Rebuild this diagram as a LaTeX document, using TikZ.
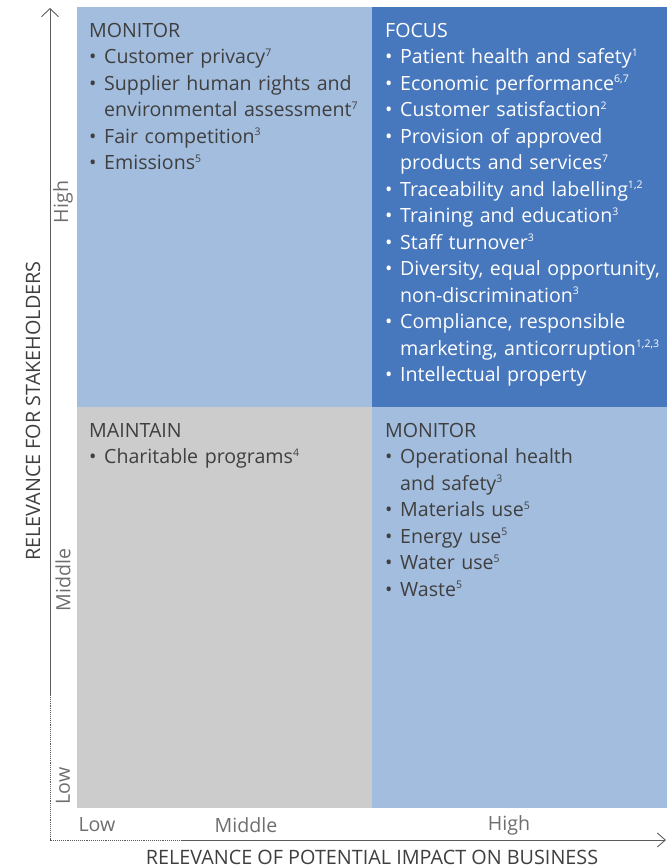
\documentclass[tikz,border=0pt]{standalone}
\usepackage{fontspec}
\setmainfont{Open Sans}
\usepackage{xcolor}
\usetikzlibrary{arrows.meta,positioning}
\definecolor{LightBlue}{HTML}{A3BDDF}
\definecolor{DarkBlue}{HTML}{4777BC}
\definecolor{LightGrey}{HTML}{CCCCCC}
\definecolor{TextGrey}{HTML}{3F3F3F}
\definecolor{AxisGrey}{HTML}{5C5C5C}
\definecolor{LabelGrey}{HTML}{6E6E6E}
\newcommand{\fn}[1]{\textsuperscript{\fontsize{10.5}{10.5}\selectfont #1}}
\newcommand{\itm}{\par\hangindent=15pt\hangafter=1\noindent\makebox[15pt][l]{\textbullet}}
\tikzset{
  quad/.style={anchor=north west, inner sep=0pt, text width=285pt, align=left,
    font=\fontsize{19.6}{26.5}\selectfont, text=TextGrey},
  axislabel/.style={inner sep=0pt, font=\fontsize{19.6}{22}\selectfont, text=LabelGrey},
  axistitle/.style={inner sep=0pt, font=\fontsize{19.8}{22}\selectfont, text=TextGrey},
  axis/.style={color=AxisGrey, line width=0.9pt},
}

\begin{document}
\begin{tikzpicture}[x=1pt,y=-1pt]
        \useasboundingbox (0,0) rectangle (668,868);
        \fill[color=LightBlue] (77,7) rectangle (372,407);
        \fill[color=DarkBlue] (372,7) rectangle (667,407);
        \fill[color=LightGrey] (77,407) rectangle (372,808);
        \fill[color=LightBlue] (372,407) rectangle (667,808);

        \node[quad] (monitortop) at (89,23) {MONITOR\itm Customer privacy\fn{7}\itm Supplier human rights and\newline environmental assessment\fn{7}\itm Fair competition\fn{3}\itm Emissions\fn{5}};
        \node[quad, text=white] (focus) at (385,23) {FOCUS\itm Patient health and safety\fn{1}\itm Economic performance\fn{6,7}\itm Customer satisfaction\fn{2}\itm Provision of approved\newline products and services\fn{7}\itm Traceability and labelling\fn{1,2}\itm Training and education\fn{3}\itm Staff turnover\fn{3}\itm Diversity, equal opportunity,\newline non-discrimination\fn{3}\itm Compliance, responsible\newline marketing, anticorruption\fn{1,2,3}\itm Intellectual property};
        \node[quad] (maintain) at (89,423) {MAINTAIN\itm Charitable programs\fn{4}};
        \node[quad] (monitorbottom) at (385,423) {MONITOR\itm Operational health\newline and safety\fn{3}\itm Materials use\fn{5}\itm Energy use\fn{5}\itm Water use\fn{5}\itm Waste\fn{5}};

        \coordinate (origin) at (50,840);
        \coordinate (ytip) at (50,8);
        \coordinate (ybreak) at (50,695);
        \coordinate (xbreak) at (183,840);
        \coordinate (xtip) at (666,840);
        \draw[axis, -{Straight Barb[length=8pt,width=17pt]}] (ybreak) -- (ytip);
        \draw[axis, densely dotted] (ybreak) -- (origin) -- (xbreak);
        \draw[axis, -{Straight Barb[length=8pt,width=14pt]}] (xbreak) -- (xtip);

        \node[axislabel, rotate=90] (yhigh) at (63,202) {High};
        \node[axislabel, rotate=90] (ymiddle) at (63,580) {Middle};
        \node[axislabel, rotate=90] (ylow) at (63,786) {Low};
        \node[axislabel] (xlow) at (97,825) {Low};
        \node[axislabel] (xmiddle) at (246,825) {Middle};
        \node[axislabel] (xhigh) at (509,825) {High};
        \node[axistitle, rotate=90] (ytitle) at (33,411) {RELEVANCE FOR STAKEHOLDERS};
        \node[axistitle] (xtitle) at (372,857) {RELEVANCE OF POTENTIAL IMPACT ON BUSINESS};
    \end{tikzpicture}
\end{document}
